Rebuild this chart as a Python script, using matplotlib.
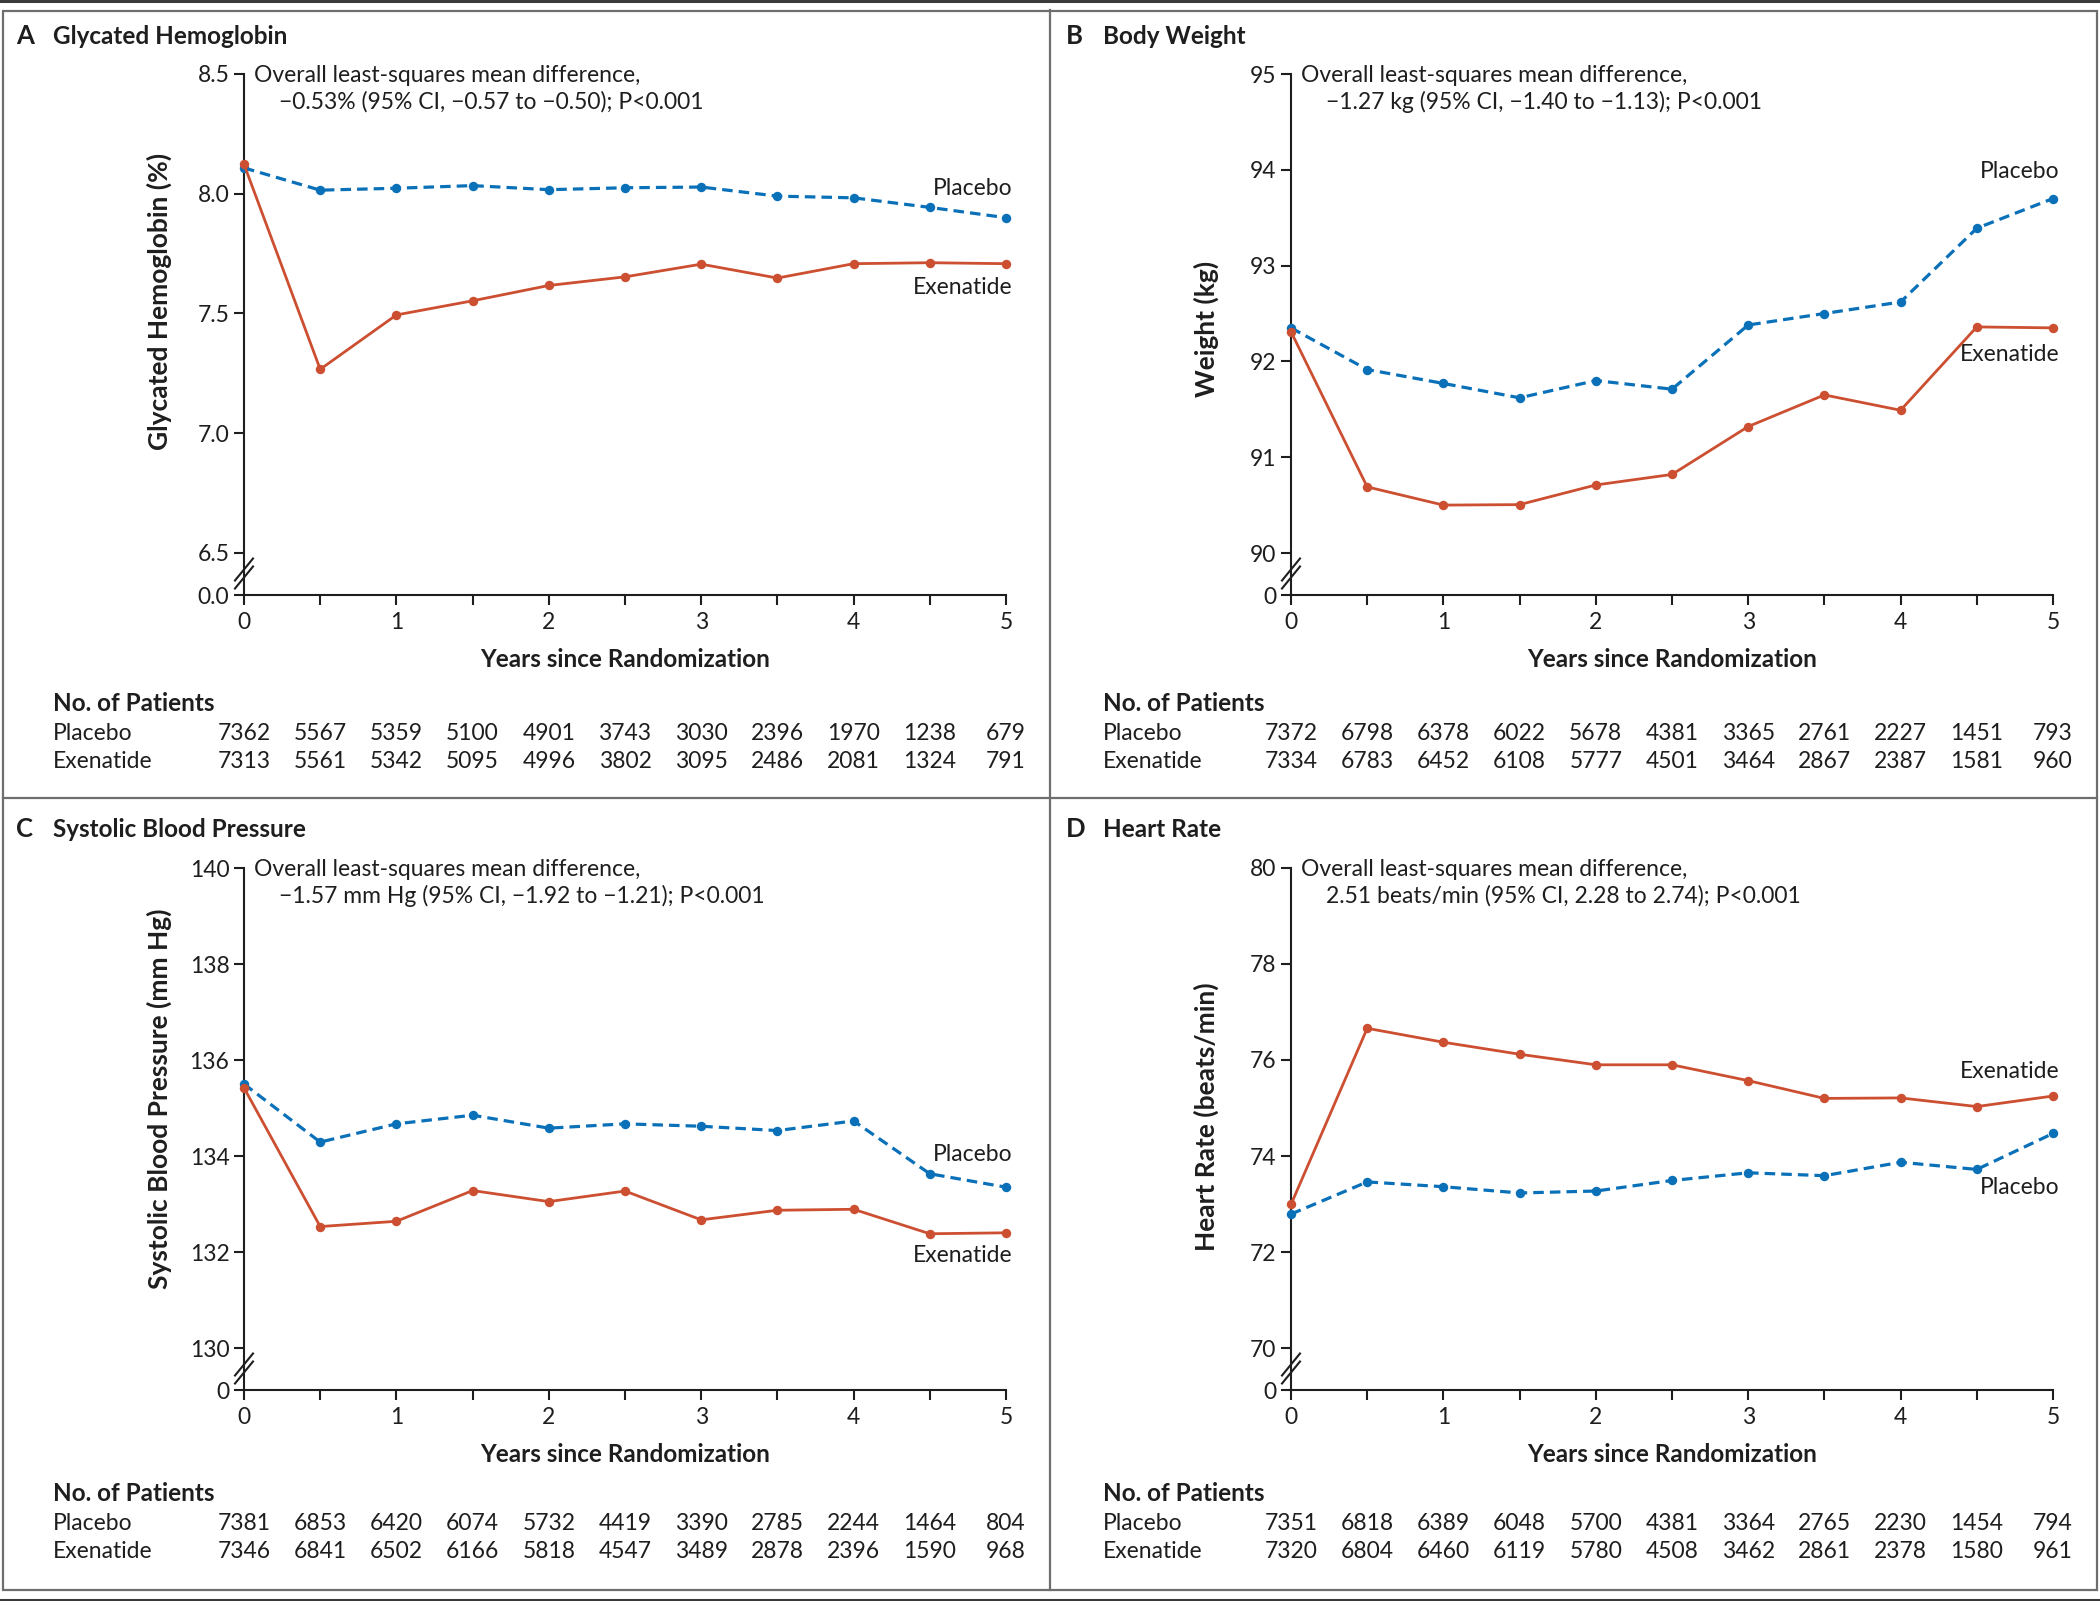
import matplotlib
matplotlib.use("Agg")
import matplotlib.pyplot as plt
from matplotlib.lines import Line2D
from matplotlib.patches import Rectangle
import matplotlib.transforms as mtransforms

# ---------------- data ----------------
years = [0, 0.5, 1, 1.5, 2, 2.5, 3, 3.5, 4, 4.5, 5]
x_tick_labels = ["0", "", "1", "", "2", "", "3", "", "4", "", "5"]

# A  Glycated hemoglobin (%)
hba1c_placebo = [8.108, 8.015, 8.023, 8.034, 8.017, 8.025, 8.028, 7.990, 7.983, 7.943, 7.900]
hba1c_exenatide = [8.123, 7.267, 7.494, 7.553, 7.617, 7.653, 7.706, 7.648, 7.708, 7.712, 7.708]
hba1c_ticks = [6.5, 7.0, 7.5, 8.0, 8.5]
hba1c_tick_labels = ["6.5", "7.0", "7.5", "8.0", "8.5"]
hba1c_n_placebo = [7362, 5567, 5359, 5100, 4901, 3743, 3030, 2396, 1970, 1238, 679]
hba1c_n_exenatide = [7313, 5561, 5342, 5095, 4996, 3802, 3095, 2486, 2081, 1324, 791]

# B  Body weight (kg)
weight_placebo = [92.35, 91.915, 91.77, 91.62, 91.80, 91.71, 92.38, 92.50, 92.62, 93.39, 93.70]
weight_exenatide = [92.31, 90.69, 90.50, 90.505, 90.71, 90.82, 91.32, 91.65, 91.49, 92.36, 92.35]
weight_ticks = [90, 91, 92, 93, 94, 95]
weight_tick_labels = ["90", "91", "92", "93", "94", "95"]
weight_n_placebo = [7372, 6798, 6378, 6022, 5678, 4381, 3365, 2761, 2227, 1451, 793]
weight_n_exenatide = [7334, 6783, 6452, 6108, 5777, 4501, 3464, 2867, 2387, 1581, 960]

# C  Systolic blood pressure (mm Hg)
sbp_placebo = [135.50, 134.29, 134.67, 134.85, 134.58, 134.67, 134.62, 134.53, 134.73, 133.63, 133.35]
sbp_exenatide = [135.42, 132.53, 132.64, 133.28, 133.05, 133.27, 132.67, 132.87, 132.89, 132.38, 132.40]
sbp_ticks = [130, 132, 134, 136, 138, 140]
sbp_tick_labels = ["130", "132", "134", "136", "138", "140"]
sbp_n_placebo = [7381, 6853, 6420, 6074, 5732, 4419, 3390, 2785, 2244, 1464, 804]
sbp_n_exenatide = [7346, 6841, 6502, 6166, 5818, 4547, 3489, 2878, 2396, 1590, 968]

# D  Heart rate (beats/min)
hr_placebo = [72.79, 73.46, 73.36, 73.23, 73.27, 73.49, 73.65, 73.59, 73.87, 73.72, 74.47]
hr_exenatide = [72.99, 76.66, 76.37, 76.12, 75.90, 75.90, 75.57, 75.20, 75.21, 75.03, 75.25]
hr_ticks = [70, 72, 74, 76, 78, 80]
hr_tick_labels = ["70", "72", "74", "76", "78", "80"]
hr_n_placebo = [7351, 6818, 6389, 6048, 5700, 4381, 3364, 2765, 2230, 1454, 794]
hr_n_exenatide = [7320, 6804, 6460, 6119, 5780, 4508, 3462, 2861, 2378, 1580, 961]

panel_letters = ["A", "B", "C", "D"]
panel_titles = ["Glycated Hemoglobin", "Body Weight", "Systolic Blood Pressure", "Heart Rate"]
y_labels = ["Glycated Hemoglobin (%)", "Weight (kg)", "Systolic Blood Pressure (mm Hg)",
            "Heart Rate (beats/min)"]
break_labels = ["0.0", "0", "0", "0"]
annot_line1 = "Overall least-squares mean difference,"
annot_line2 = ["\u22120.53% (95% CI, \u22120.57 to \u22120.50); P<0.001",
               "\u22121.27 kg (95% CI, \u22121.40 to \u22121.13); P<0.001",
               "\u22121.57 mm Hg (95% CI, \u22121.92 to \u22121.21); P<0.001",
               "2.51 beats/min (95% CI, 2.28 to 2.74); P<0.001"]
# series end-label y positions (data units)
label_y_placebo = [8.02, 93.98, 134.04, 73.34]
label_y_exenatide = [7.61, 92.07, 131.92, 75.77]

# ---------------- style ----------------
W, H = 2100, 1601
DPI = 100
RED = "#CC4F31"
BLUE = "#0A70B8"
TXT = "#1e1e1e"
NARROW = ["Lato", "DejaVu Sans"]
BOLDF = ["Lato", "DejaVu Sans"]
FS = 16.5

plt.rcParams["font.family"] = NARROW
plt.rcParams["text.color"] = TXT

fig = plt.figure(figsize=(W / DPI, H / DPI), dpi=DPI)


def fx(px):
    return px / W


def fy(py):
    return 1 - py / H


# axes geometry in pixels: (left, top, right, bottom)
axes_px = [(244, 74, 1006, 595), (1291, 74, 2053, 595),
           (244, 868, 1006, 1390), (1291, 868, 2053, 1390)]
panel_title_y = [36, 36, 829, 829]
panel_left = [16, 1066, 16, 1066]
table_y = [(703, 733, 761), (703, 733, 761), (1493, 1523, 1551), (1493, 1523, 1551)]
ylabel_yfrac = [0.564, 0.51, 0.558, 0.524]
break_gap_px = 42.0

panels = [
    (hba1c_placebo, hba1c_exenatide, hba1c_ticks, hba1c_tick_labels, hba1c_n_placebo, hba1c_n_exenatide),
    (weight_placebo, weight_exenatide, weight_ticks, weight_tick_labels, weight_n_placebo, weight_n_exenatide),
    (sbp_placebo, sbp_exenatide, sbp_ticks, sbp_tick_labels, sbp_n_placebo, sbp_n_exenatide),
    (hr_placebo, hr_exenatide, hr_ticks, hr_tick_labels, hr_n_placebo, hr_n_exenatide),
]

for i, (pl, ex, yt, ytl, npl, nex) in enumerate(panels):
    l, t, r, b = axes_px[i]
    ax = fig.add_axes([fx(l), fy(b), (r - l) / W, (b - t) / H])
    hpx = b - t
    lo, hi = yt[0], yt[-1]
    frac = break_gap_px / hpx
    ylow = lo - frac * (hi - lo) / (1 - frac)
    ax.set_ylim(ylow, hi)
    ax.set_xlim(0, 5)

    ax.plot(years, pl, color=BLUE, lw=2.3, ls=(0, (3.3, 1.9)), marker="o", ms=6.8,
            markeredgewidth=0, clip_on=False, zorder=3)
    ax.plot(years, ex, color=RED, lw=2.0, marker="o", ms=6.8,
            markeredgewidth=0, clip_on=False, zorder=4)

    for s in ["top", "right"]:
        ax.spines[s].set_visible(False)
    for s in ["left", "bottom"]:
        ax.spines[s].set_linewidth(1.5)
        ax.spines[s].set_color(TXT)

    ax.set_yticks([ylow] + yt)
    ax.set_yticklabels([break_labels[i]] + ytl)
    ax.set_xticks(years)
    ax.set_xticklabels(x_tick_labels)
    ax.tick_params(axis="both", direction="out", length=7.5, width=1.5, color=TXT,
                   labelsize=FS, labelcolor=TXT)
    ax.tick_params(axis="y", pad=3)
    ax.tick_params(axis="x", pad=5)

    # axis break marks
    apx_w = r - l
    for dy in (-4, 4):
        cy = 21.5 + dy
        ax.plot([(-9) / apx_w, 9 / apx_w], [(cy - 11) / hpx, (cy + 11) / hpx],
                transform=ax.transAxes, color=TXT, lw=1.5, clip_on=False, zorder=5)

    ax.set_ylabel(y_labels[i], fontsize=19, fontweight="bold", family=BOLDF, color=TXT)
    ax.yaxis.set_label_coords(-0.111, ylabel_yfrac[i])
    ax.yaxis.label.set_va("center")
    ax.set_xlabel("Years since Randomization", fontsize=17.5, fontweight="bold",
                  family=BOLDF, color=TXT)
    ax.xaxis.set_label_coords(0.5, -64 / hpx)
    ax.xaxis.label.set_va("center")

    # annotation
    ax.text(10 / apx_w, 1 - 2 / hpx, annot_line1, transform=ax.transAxes, fontsize=FS,
            va="center", ha="left")
    ax.text(35 / apx_w, 1 - 28 / hpx, annot_line2[i], transform=ax.transAxes, fontsize=FS,
            va="center", ha="left")

    # series end labels
    ax.text(5.04, label_y_placebo[i], "Placebo", fontsize=FS, ha="right", va="center")
    ax.text(5.04, label_y_exenatide[i], "Exenatide", fontsize=FS, ha="right", va="center")

    # panel title
    fig.text(fx(panel_left[i]), fy(panel_title_y[i]), panel_letters[i], fontsize=18.5,
             fontweight="bold", family=BOLDF, va="center", ha="left")
    fig.text(fx(panel_left[i] + 37), fy(panel_title_y[i]), panel_titles[i], fontsize=17.5,
             fontweight="bold", family=BOLDF, va="center", ha="left")

    # number at risk table
    ty0, ty1, ty2 = table_y[i]
    tx = panel_left[i] + 37
    fig.text(fx(tx), fy(ty0), "No. of Patients", fontsize=17.5, fontweight="bold",
             family=BOLDF, va="center", ha="left")
    fig.text(fx(tx), fy(ty1), "Placebo", fontsize=FS, va="center", ha="left")
    fig.text(fx(tx), fy(ty2), "Exenatide", fontsize=FS, va="center", ha="left")
    trans = mtransforms.blended_transform_factory(ax.transData, fig.transFigure)
    for xv, a, bb in zip(years, npl, nex):
        fig.text(xv, fy(ty1), str(a), transform=trans, fontsize=FS, va="center", ha="center")
        fig.text(xv, fy(ty2), str(bb), transform=trans, fontsize=FS, va="center", ha="center")

# ---------------- frame ----------------
GRAY = "#6e6e6e"
DARK = "#3a3a3a"
fig.add_artist(Line2D([0, 1], [fy(1.5), fy(1.5)], color=DARK, lw=2.2))
fig.add_artist(Line2D([0, 1], [fy(1599.5), fy(1599.5)], color=DARK, lw=2.2))
fig.add_artist(Rectangle((fx(3), fy(1590)), fx(2097) - fx(3), fy(10.5) - fy(1590),
                         fill=False, edgecolor=GRAY, lw=1.6))
fig.add_artist(Line2D([fx(1050), fx(1050)], [fy(10.5), fy(1590)], color=GRAY, lw=1.6))
fig.add_artist(Line2D([fx(3), fx(2097)], [fy(798), fy(798)], color=GRAY, lw=1.6))

fig.savefig("out.png", dpi=DPI)
